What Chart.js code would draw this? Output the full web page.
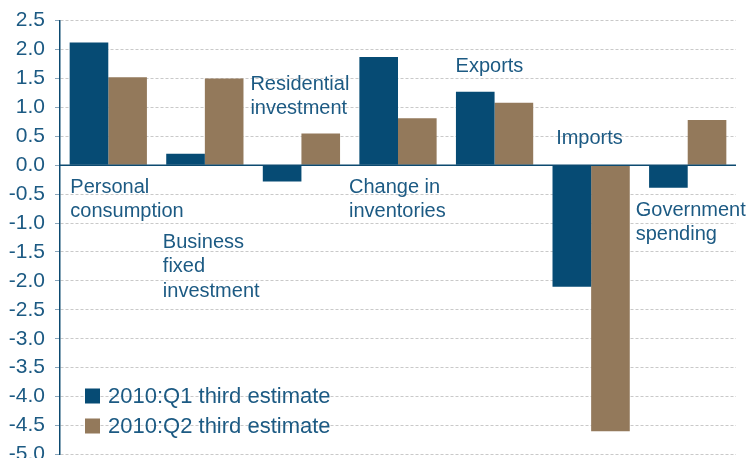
<!DOCTYPE html>
<html>
<head>
<meta charset="utf-8">
<script src="https://cdn.jsdelivr.net/npm/chart.js@4.4.0/dist/chart.umd.min.js"></script>
<style>
  body { margin: 0; background: #fff; }
  #wrap { width: 749px; height: 458px; overflow: hidden; }
  #gdpChart { display: block; margin-top: -2px; }
</style>
</head>
<body>
<div id="wrap"><canvas id="gdpChart" width="749" height="479"></canvas></div>
<script>
// Contributions to real GDP growth, percentage points
var categories = ['Personal consumption', 'Business fixed investment', 'Residential investment',
    'Change in inventories', 'Exports', 'Imports', 'Government spending'];
var q1Values = [2.12, 0.2, -0.28, 1.87, 1.27, -2.1, -0.39];
var q2Values = [1.52, 1.5, 0.55, 0.81, 1.08, -4.6, 0.78];
var seriesNames = ['2010:Q1 third estimate', '2010:Q2 third estimate'];
var yTicks = { min: -5.0, max: 2.5, step: 0.5 };

// Category label text, split into lines
var labelLines = [
    ['Personal', 'consumption'],
    ['Business', 'fixed', 'investment'],
    ['Residential', 'investment'],
    ['Change in', 'inventories'],
    ['Exports'],
    ['Imports'],
    ['Government', 'spending']
];
// where each label sits: dx from category centre (px), y as an axis value for the first line
var labelPlace = [
    { dx: -38, y: -0.38 },
    { dx: -42, y: -1.33 },
    { dx: -51, y: 1.40 },
    { dx: -49, y: -0.38 },
    { dx: -39, y: 1.70 },
    { dx: -35, y: 0.47 },
    { dx: -52, y: -0.78 }
];

var textColor = '#1c5a83';
var q1Color = '#064b74';
var q2Color = '#93795b';

// Draws the category labels, the zero line and the legend box
var annotations = {
    id: 'annotations',
    afterDatasetsDraw: function(chart) {
        var ctx = chart.ctx;
        var x = chart.scales.x;
        var y = chart.scales.y;
        var area = chart.chartArea;

        // zero line
        ctx.save();
        ctx.strokeStyle = '#0d4a70';
        ctx.lineWidth = 1.5;
        ctx.beginPath();
        ctx.moveTo(area.left, y.getPixelForValue(0));
        ctx.lineTo(area.right, y.getPixelForValue(0));
        ctx.stroke();

        // category labels
        ctx.fillStyle = textColor;
        ctx.font = '20px "Liberation Sans", Arial, sans-serif';
        ctx.textBaseline = 'middle';
        ctx.textAlign = 'left';
        labelLines.forEach(function(lines, i) {
            var lx = x.getPixelForValue(i) + labelPlace[i].dx;
            var ly = y.getPixelForValue(labelPlace[i].y);
            lines.forEach(function(line, j) {
                ctx.fillText(line, lx, ly + j * 24.5);
            });
        });

        // legend
        var colors = [q1Color, q2Color];
        ctx.font = '22px "Liberation Sans", Arial, sans-serif';
        seriesNames.forEach(function(name, i) {
            var cy = 398 + i * 30;
            ctx.fillStyle = colors[i];
            ctx.fillRect(85, cy - 7.5, 15, 15);
            ctx.fillStyle = textColor;
            ctx.fillText(name, 108, cy + 1);
        });
        ctx.restore();
    }
};

var ctx = document.getElementById('gdpChart').getContext('2d');
var gdpChart = new Chart(ctx, {
    type: 'bar',
    data: {
        labels: categories,
        datasets: [{
            label: seriesNames[0],
            data: q1Values,
            backgroundColor: q1Color,
            borderWidth: 0,
            categoryPercentage: 0.8,
            barPercentage: 1.0
        }, {
            label: seriesNames[1],
            data: q2Values,
            backgroundColor: q2Color,
            borderWidth: 0,
            categoryPercentage: 0.8,
            barPercentage: 1.0
        }]
    },
    options: {
        responsive: false,
        animation: false,
        devicePixelRatio: 1,
        layout: {
            padding: { top: 17, right: 13, bottom: 15, left: 0 }
        },
        plugins: {
            legend: { display: false },
            tooltip: { enabled: false }
        },
        scales: {
            x: {
                display: false
            },
            y: {
                min: yTicks.min,
                max: yTicks.max,
                afterFit: function(scale) {
                    scale.width = 60;
                },
                ticks: {
                    stepSize: yTicks.step,
                    padding: 10,
                    color: textColor,
                    font: { family: '"Liberation Sans", Arial, sans-serif', size: 21 },
                    callback: function(value) {
                        return Number(value).toFixed(1);
                    }
                },
                grid: {
                    color: '#c9c9c9',
                    lineWidth: 1,
                    drawTicks: true,
                    tickLength: 5,
                    tickColor: '#8aa6bb'
                },
                border: {
                    display: true,
                    color: '#0d4a70',
                    width: 1.5,
                    dash: [3, 2]
                }
            }
        }
    },
    plugins: [annotations]
});
</script>
</body>
</html>
